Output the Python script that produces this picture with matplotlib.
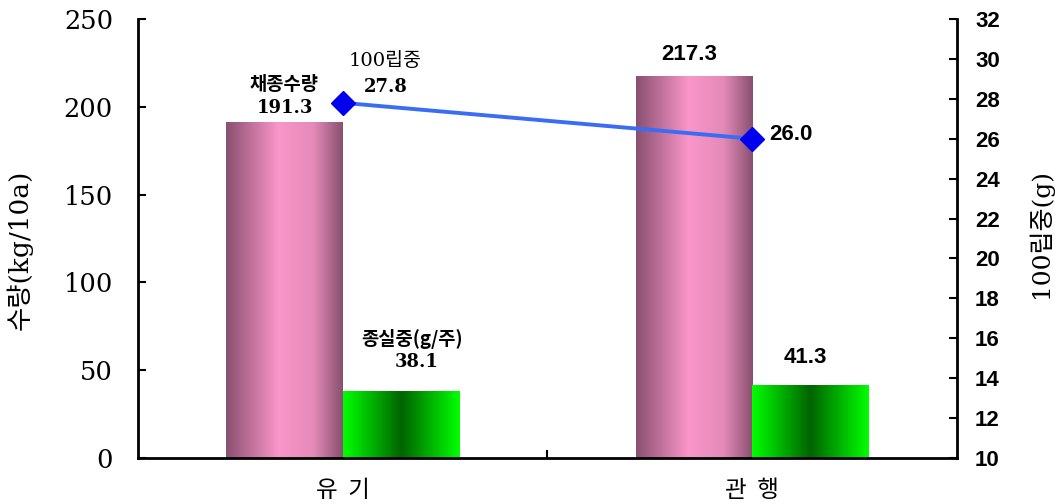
import matplotlib.pyplot as plt
import numpy as np
from matplotlib.colors import LinearSegmentedColormap

plt.rcParams['font.family'] = ['Noto Sans CJK KR', 'DejaVu Sans']
serif_kr = ['DejaVu Serif', 'Noto Sans CJK KR']

groups = ['유  기', '관  행']
yield_vals = [191.3, 217.3]      # 채종수량 (kg/10a)
seed_wt = [38.1, 41.3]           # 종실중 (g/주)
grain100 = [27.8, 26.0]          # 100립중 (g)

pink = LinearSegmentedColormap.from_list('pink', [(0, '#8a5070'), (0.45, '#fa96c9'), (0.75, '#e48ab8'), (1, '#88506e')])
green = LinearSegmentedColormap.from_list('green', [(0, '#00ff00'), (0.5, '#006400'), (1, '#00ff00')])

fig = plt.figure(figsize=(10.58, 5.04), dpi=100)
ax = fig.add_axes([0.1304, 0.0913, 0.7741, 0.871])
w = 0.284
x = np.arange(len(groups))
grad = np.linspace(0, 1, 256).reshape(1, -1)

def grad_bar(ax, xc, h, cmap):
    b = ax.bar(xc, h, w, color='none', edgecolor='none')[0]
    im = ax.imshow(grad, cmap=cmap, aspect='auto', extent=[xc - w / 2, xc + w / 2, 0, h], zorder=2)
    im.set_clip_path(b)

for i in range(len(groups)):
    grad_bar(ax, x[i] - w / 2, yield_vals[i], pink)
    grad_bar(ax, x[i] + w / 2, seed_wt[i], green)

ax.set_xlim(-0.5, 1.5)
ax.set_ylim(0, 250)
ax.set_yticks(range(0, 251, 50))
ax.tick_params(axis='y', direction='in', length=6, width=1.5, labelsize=18.5, pad=18)
for t in ax.get_yticklabels():
    t.set_family('DejaVu Serif')
ax.set_xticks([0.5])
ax.set_xticklabels([''])
ax.tick_params(axis='x', direction='in', length=6, width=1.5)
ax.spines['top'].set_visible(False)
ax.spines['right'].set_visible(False)
for s in ['left', 'bottom']:
    ax.spines[s].set_linewidth(2)
ax.set_ylabel('수량(kg/10a)', fontsize=19, family=serif_kr)
ax.yaxis.set_label_coords(-0.128, 0.474)

for i, g in enumerate(groups):
    ax.text(x[i], -0.073, g, transform=ax.get_xaxis_transform(), ha='center', va='center', fontsize=17)

ax2 = ax.twinx()
ax2.set_ylim(10, 32)
ax2.set_yticks(range(10, 33, 2))
ax2.plot(x, grain100, color='#3a6cf4', lw=2.8, marker='D', ms=12, mfc='#0000ee', mec='#0000ee')
ax2.tick_params(axis='y', direction='in', length=6, width=1.5, labelsize=16, pad=13)
for t in ax2.get_yticklabels():
    t.set_family('Liberation Sans')
    t.set_fontweight('bold')
for s in ['top', 'left', 'bottom']:
    ax2.spines[s].set_visible(False)
ax2.spines['right'].set_linewidth(2)
ax2.set_ylabel('100립중(g)', fontsize=18, family=serif_kr)
ax2.yaxis.set_label_coords(1.0867, 0.5125)

# annotations
xl = x[0] - w / 2
ax.text(xl, 212.5, '채종수량', ha='center', va='center', fontsize=13.5, fontweight='bold')
ax.text(xl, 199.5, f'{yield_vals[0]}', ha='center', va='center', fontsize=13, fontweight='bold', family='DejaVu Serif')
ax.text(0.103, 226, '100립중', ha='center', va='center', fontsize=14, family=serif_kr)
ax.text(0.105, 211.5, f'{grain100[0]}', ha='center', va='center', fontsize=13, fontweight='bold', family='DejaVu Serif')
ax.text(0.170, 67.5, '종실중(g/주)', ha='center', va='center', fontsize=13.5, fontweight='bold')
ax.text(0.180, 54.5, f'{seed_wt[0]}', ha='center', va='center', fontsize=13, fontweight='bold', family='DejaVu Serif')
ax.text(0.847, 229.5, f'{yield_vals[1]}', ha='center', va='center', fontsize=16, fontweight='bold', family='Liberation Sans')
ax.text(1.041, 184, f'{grain100[1]}', ha='left', va='center', fontsize=16, fontweight='bold', family='Liberation Sans')
ax.text(1.13, 57.5, f'{seed_wt[1]}', ha='center', va='center', fontsize=16, fontweight='bold', family='Liberation Sans')

fig.savefig('out.png', dpi=100)
